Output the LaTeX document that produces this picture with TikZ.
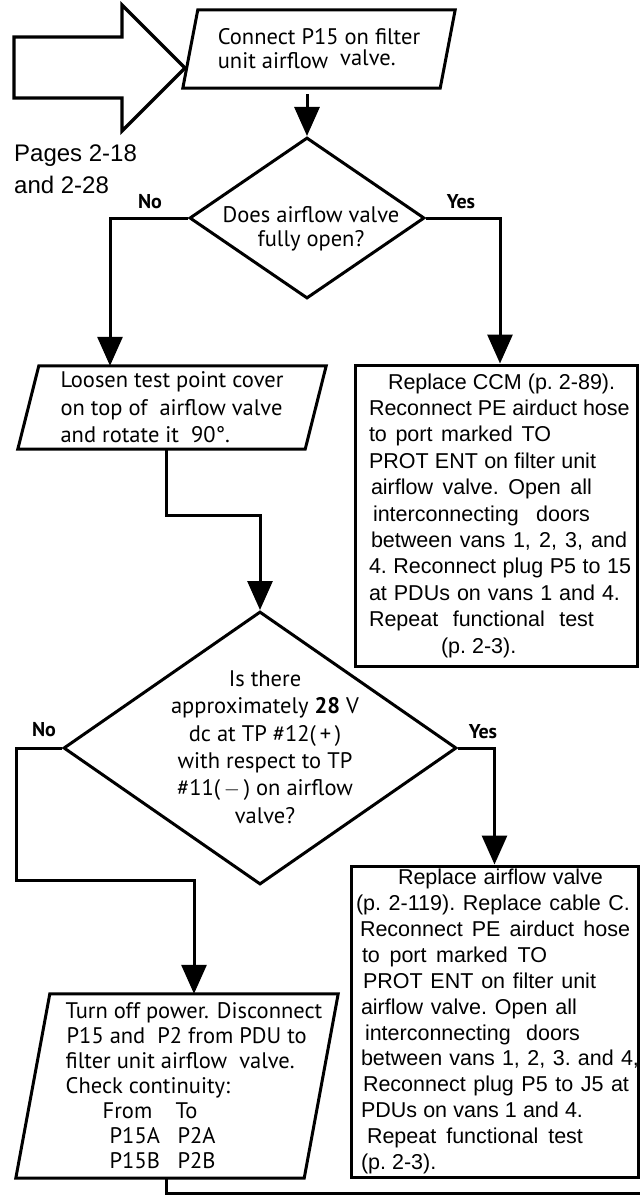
\documentclass[tikz,border=0pt]{standalone}
\usepackage{fontspec}
\setmainfont{PT Sans}
\newfontfamily\gothic{Liberation Sans}
\usetikzlibrary{positioning}
\usetikzlibrary{calc}
\usetikzlibrary{shapes.geometric}
\usetikzlibrary{arrows.meta}

% One line of a spaced-out instruction: indent, width, words
% (the word gaps take up all the room the line is given)
\newcommand{\spreadline}[3]{\hspace*{#1pt}\makebox[#2pt][s]{%
    \spaceskip=.28em plus 1fil\xspaceskip=\spaceskip #3}}

\tikzset{
    % Heavy pen used for every outline and line
    heavy/.style={line width=3pt},
    flow/.style={heavy, draw, -{Triangle[width=25pt, length=29pt]}},
    wire/.style={heavy, draw},
%
    % Fonts
    task font/.style={font=\fontsize{22.5}{#1}\selectfont},
    task font/.default=27,
    note font/.style={font=\gothic\fontsize{21.5}{#1}\selectfont},
    note font/.default=26.4,
    answer/.style={font=\bfseries\fontsize{20}{24}\selectfont, inner sep=0pt},
%
    % Slanted box: the outline follows the node's body, with the top
    % edge moved sideways by #1 and the bottom edge by #2
    io box/.style 2 args={
        rectangle, inner sep=0pt, align=left,
        append after command={
            \pgfextra{
                \draw [heavy, line join=miter]
                    ([xshift=#1]\tikzlastnode.north west) --
                    ([xshift=#1]\tikzlastnode.north east) --
                    ([xshift=#2]\tikzlastnode.south east) --
                    ([xshift=#2]\tikzlastnode.south west) -- cycle;}}},
    action box/.style={
        draw, rectangle, heavy, inner sep=0pt, note font, align=left},
    decision/.style={
        draw, diamond, heavy, inner sep=0pt},
    entry arrow/.style={draw, line width=3.4pt, line join=miter},
}

\begin{document}
\begin{tikzpicture}[x=1pt, y=-1pt]
    \useasboundingbox (0,0) rectangle (640,1196);

    % Entry from the earlier pages
    \draw [entry arrow]
        (14,37) -- (122,37) -- (122,5) -- (185,68) -- (122,131)
        -- (122,98) -- (14,98) -- cycle;
    \node (pages) [font=\gothic\fontsize{24}{32}\selectfont, align=left,
        anchor=north west, inner sep=0pt] at (14,145)
        {Pages 2-18\\and\ 2-28};

    % First step and question
    \node (connect) [io box={7.5pt}{-7.5pt}, task font=24,
        minimum width=257pt, minimum height=78pt] at (319,49)
        {Connect P15 on filter\\unit airflow\hspace{12pt}\raisebox{3pt}{valve.}};
    \node (open q) [decision, minimum width=235pt, minimum height=161pt]
        at (307,218) {};
    \node (open text) [task font=24, align=center] at (311,229)
        {Does airflow valve\\fully open?};
    \node (open no) [answer] at ([shift={(-38,-16)}]open q.west) {No};
    \node (open yes) [answer] at ([shift={(35,-16)}]open q.east) {Yes};

    \node (loosen) [io box={10.5pt}{-10.5pt}, task font=27.5,
        minimum width=287pt, minimum height=83pt] at (172,407.5)
        {Loosen test point cover\\on top of\ \ airflow valve\\and rotate it\ \ 90°.};

    \node (ccm) [action box, text width=254pt, minimum width=282pt,
        minimum height=301pt] at (496,515.5) {%
        \spreadline{19}{226}{Replace CCM (p. 2-89).}\\
        \spreadline{0}{260}{Reconnect PE airduct hose}\\
        \spreadline{0}{182}{to port marked TO}\\
        \spreadline{0}{227}{PROT ENT on filter unit}\\
        \spreadline{2}{221}{airflow valve. Open all}\\
        \spreadline{4}{217}{interconnecting doors}\\
        \spreadline{2}{256}{between vans 1, 2, 3, and}\\
        \spreadline{0}{262}{4. Reconnect plug P5 to 15}\\
        \spreadline{0}{251}{at PDUs on vans 1 and 4.}\\
        \spreadline{0}{225}{Repeat functional test}\\
        \spreadline{72}{72}{(p. 2-3).}};

    % Second question
    \node (volts q) [decision, minimum width=393pt, minimum height=273pt]
        at (260,748) {};
    \node (volts text) [task font=27.4, align=center] at (265,747)
        {Is there\\approximately {\bfseries 28} V\\dc at TP \#12(\,+\,)\\
        with respect to TP\\\#11(\,$-$\,) on airflow\\valve?};
    \node (volts no) [answer] at ([shift={(-18,-18)}]volts q.west) {No};
    \node (volts yes) [answer] at ([shift={(25,-16)}]volts q.east) {Yes};

    \node (fix) [action box, note font=25.9, text width=277pt,
        minimum width=287pt, minimum height=311pt] at (494.5,1021.5) {%
        \spreadline{42}{205}{Replace airflow valve}\\
        \spreadline{0}{274}{(p. 2-119). Replace cable C.}\\
        \spreadline{4}{270}{Reconnect PE airduct hose}\\
        \spreadline{6}{185}{to port marked TO}\\
        \spreadline{7}{233}{PROT ENT on filter unit}\\
        \spreadline{5}{216}{airflow valve. Open all}\\
        \spreadline{9}{215}{interconnecting doors}\\
        \spreadline{5}{278}{between vans 1, 2, 3. and 4,}\\
        \spreadline{7}{266}{Reconnect plug P5 to J5 at}\\
        \spreadline{5}{222}{PDUs on vans 1 and 4.}\\
        \spreadline{11}{216}{Repeat functional test}\\
        \spreadline{5}{74}{(p. 2-3).}};

    \node (power) [io box={0pt}{-34pt}, task font=25,
        minimum width=288pt, minimum height=184pt] at (194,1086) {%
        Turn off power. Disconnect\\
        \hspace*{1pt}P15 and\ \ P2 from PDU to\\
        filter unit airflow\ \ valve.\\
        Check\ continuity:\\
        \hspace*{37pt}\makebox[73pt][l]{From}To\\
        \hspace*{44pt}\makebox[68pt][l]{P15A}P2A\\
        \hspace*{44pt}\makebox[68pt][l]{P15B}P2B};
    \coordinate (exit) at (640,1193);

    % Connections
    \draw [flow] ($(open q.north |- connect.south)+(0,6)$) -- (open q.north);
    \draw [flow] (open q.west) -| ([xshift=-62pt]loosen.north);
    \draw [flow] (open q.east) -| ([xshift=4pt]ccm.north);
    \draw [flow] ([xshift=-6pt]loosen.south) -- ++(0,66) -| (volts q.north);
    \draw [flow] (volts q.west) -- ++(-46,0) -- ++(0,132) -| (power.north);
    \draw [flow] (volts q.east) -| (fix.north);
    \draw [wire] ([xshift=-28pt]power.south) |- (exit);
\end{tikzpicture}
\end{document}
